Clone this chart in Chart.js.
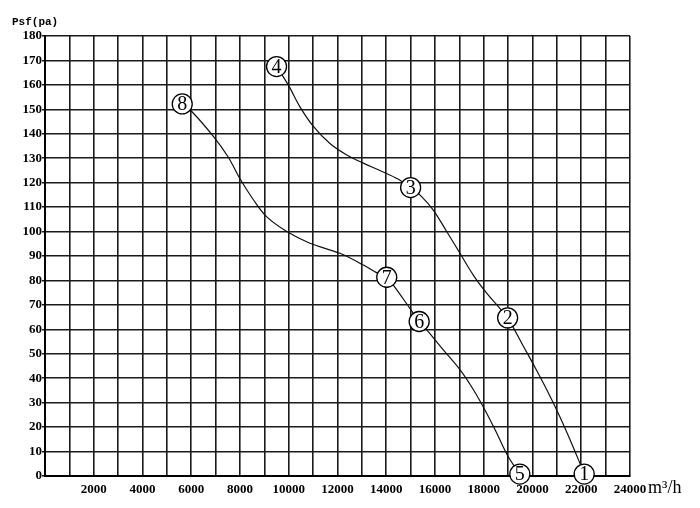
<!DOCTYPE html>
<html>
<head>
<meta charset="utf-8">
<script src="https://cdn.jsdelivr.net/npm/chart.js@4.4.0/dist/chart.umd.min.js"></script>
<style>
  body { margin: 0; background: #fff; }
  #wrap { width: 700px; height: 508px; position: relative; }
</style>
</head>
<body>
<div id="wrap"><canvas id="c"></canvas></div>
<script>
// curve 4-3-2-1
curveAX = [9500, 9980, 10460, 11010, 11690, 12380, 13060, 13740, 14500, 15000, 15450, 15930, 16480, 17030, 17570, 18120, 18600, 18980, 19620, 20100, 20580, 21060, 21470, 21880, 22120]
curveAY = [167.5, 160, 151, 143, 136, 131.3, 128, 125, 121.4, 118, 114.3, 108.8, 100, 91, 82.2, 74.8, 69.3, 64.7, 53.2, 44.5, 35.4, 25.6, 16.5, 6.8, 0.8]
// curve 8-7-6-5
curveBX = [5630, 6020, 6900, 7520, 8000, 8550, 9090, 9920, 10870, 12100, 13060, 13600, 14020, 14290, 14970, 15350, 15730, 16340, 17030, 17570, 18050, 18530, 19000, 19480]
curveBY = [152.2, 149.1, 139, 130.4, 121.6, 113, 106.1, 100, 95.2, 91.1, 86.3, 83.2, 81.3, 78.1, 68.6, 63.2, 59, 51.6, 43.4, 35.4, 27, 17.6, 8, 0.8]

markerALabels = ['4', '3', '2', '1']
markerAX = [9500, 15000, 18980, 22120]
markerAY = [167.5, 118, 64.7, 0.8]
markerBLabels = ['8', '7', '6', '5']
markerBX = [5630, 14020, 15350, 19480]
markerBY = [152.2, 81.3, 63.2, 0.8]

xTicksShown = [2000, 4000, 6000, 8000, 10000, 12000, 14000, 16000, 18000, 20000, 22000, 24000]

function pts(xs, ys) {
  return xs.map((x, i) => ({x: x, y: ys[i]}))
}

tickFont = {family: '"Liberation Serif", serif', size: 13, weight: 'bold'}

function markerSet(xs, ys, labels) {
  return {
    data: pts(xs, ys),
    labelsText: labels,
    showLine: false,
    pointRadius: 10,
    pointBackgroundColor: '#fff',
    pointBorderColor: '#000',
    pointBorderWidth: 1.3,
    clip: false
  }
}
function curveSet(xs, ys) {
  return {
    data: pts(xs, ys),
    showLine: true,
    borderColor: '#111',
    borderWidth: 1.2,
    pointRadius: 0,
    tension: 0.35,
    fill: false
  }
}

var textPlugin = {
  id: 'texts',
  afterDatasetsDraw(chart) {
    var ctx = chart.ctx
    ctx.save()
    ctx.fillStyle = '#000'
    ctx.textAlign = 'center'
    ctx.textBaseline = 'middle'
    ctx.font = '20px "Liberation Serif", serif'
    chart.data.datasets.forEach((ds, i) => {
      if (!ds.labelsText) return
      chart.getDatasetMeta(i).data.forEach((el, j) => {
        ctx.fillText(ds.labelsText[j], el.x, el.y + 1)
      })
    })
    ctx.restore()
  },
  afterDraw(chart) {
    var ctx = chart.ctx
    ctx.save()
    ctx.fillStyle = '#000'
    ctx.textAlign = 'left'
    ctx.textBaseline = 'middle'
    ctx.font = 'bold 11px "Liberation Mono", monospace'
    ctx.fillText('Psf(pa)', 12, 22)
    ctx.textBaseline = 'alphabetic'
    ctx.font = '18px "Liberation Serif", serif'
    ctx.fillText('m³/h', 648, 493)
    ctx.restore()
  }
}

new Chart(document.getElementById('c'), {
  type: 'scatter',
  data: {
    datasets: [
      markerSet(markerAX, markerAY, markerALabels),
      markerSet(markerBX, markerBY, markerBLabels),
      curveSet(curveAX, curveAY),
      curveSet(curveBX, curveBY)
    ]
  },
  options: {
    responsive: true,
    maintainAspectRatio: false,
    animation: false,
    layout: {padding: {top: 36, right: 70, left: 0, bottom: 0}},
    plugins: {legend: {display: false}, tooltip: {enabled: false}},
    scales: {
      x: {
        type: 'linear',
        min: 0,
        max: 24000,
        afterFit: s => { s.height = 32 },
        border: {color: '#000', width: 2},
        grid: {color: '#1a1a1a', lineWidth: 1.6, drawTicks: false},
        ticks: {
          stepSize: 1000,
          autoSkip: false,
          maxRotation: 0,
          padding: 6,
          color: '#000',
          font: tickFont,
          callback: v => xTicksShown.includes(v) ? String(v) : ''
        }
      },
      y: {
        min: 0,
        max: 180,
        afterFit: s => { s.width = 45 },
        border: {color: '#000', width: 2},
        grid: {color: '#1a1a1a', lineWidth: 1.6, tickLength: 3},
        ticks: {stepSize: 10, padding: 0, color: '#000', font: tickFont}
      }
    }
  },
  plugins: [textPlugin]
})
</script>
</body>
</html>
